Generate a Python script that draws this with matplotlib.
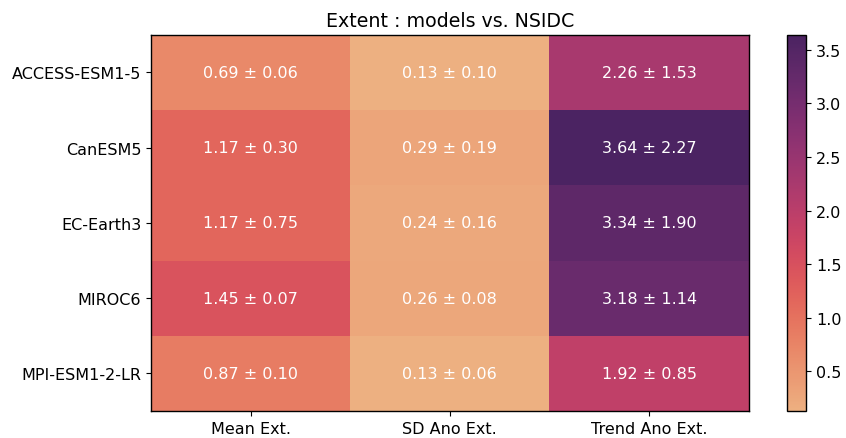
import matplotlib
matplotlib.use("Agg")
import matplotlib.pyplot as plt
import numpy as np
import seaborn as sns

models = ["ACCESS-ESM1-5", "CanESM5", "EC-Earth3", "MIROC6", "MPI-ESM1-2-LR"]
metrics = ["Mean Ext.", "SD Ano Ext.", "Trend Ano Ext."]
mean_vals = [
    [0.69, 0.13, 2.26],
    [1.17, 0.29, 3.64],
    [1.17, 0.24, 3.34],
    [1.45, 0.26, 3.18],
    [0.87, 0.13, 1.92],
]
sd_vals = [
    [0.06, 0.10, 1.53],
    [0.30, 0.19, 2.27],
    [0.75, 0.16, 1.90],
    [0.07, 0.08, 1.14],
    [0.10, 0.06, 0.85],
]

plt.rcParams['font.family'] = ['DejaVu Sans']
cmap = sns.color_palette("flare", as_cmap=True)
data = np.array(mean_vals)
sd = np.array(sd_vals)

fig = plt.figure(figsize=(8.46, 4.39), dpi=100)
ax = fig.add_axes([0.1785, 0.0615, 0.7065, 0.857])
cax = fig.add_axes([0.930, 0.0615, 0.023, 0.857])

mesh = ax.pcolormesh(data, cmap=cmap, vmin=data.min(), vmax=data.max())
ax.set_xlim(0, data.shape[1])
ax.set_ylim(data.shape[0], 0)
ax.set_xticks(np.arange(data.shape[1]) + 0.5)
ax.set_xticklabels(metrics, fontsize=11.5)
ax.set_yticks(np.arange(data.shape[0]) + 0.5)
ax.set_yticklabels(models, fontsize=11.5)
for i in range(data.shape[0]):
    for j in range(data.shape[1]):
        ax.text(j + 0.5, i + 0.5, f"{data[i, j]:.2f} ± {sd[i, j]:.2f}",
                ha="center", va="center", color="white", fontsize=11.5)
for s in ax.spines.values():
    s.set_linewidth(1.0)
    s.set_color("black")
ax.set_title("Extent : models vs. NSIDC", fontsize=13.7, pad=6)

cb = fig.colorbar(mesh, cax=cax)
cb.set_ticks([0.5, 1.0, 1.5, 2.0, 2.5, 3.0, 3.5])
cb.ax.tick_params(labelsize=11.5)
cb.outline.set_linewidth(1.0)

fig.savefig("out.png", dpi=100)
